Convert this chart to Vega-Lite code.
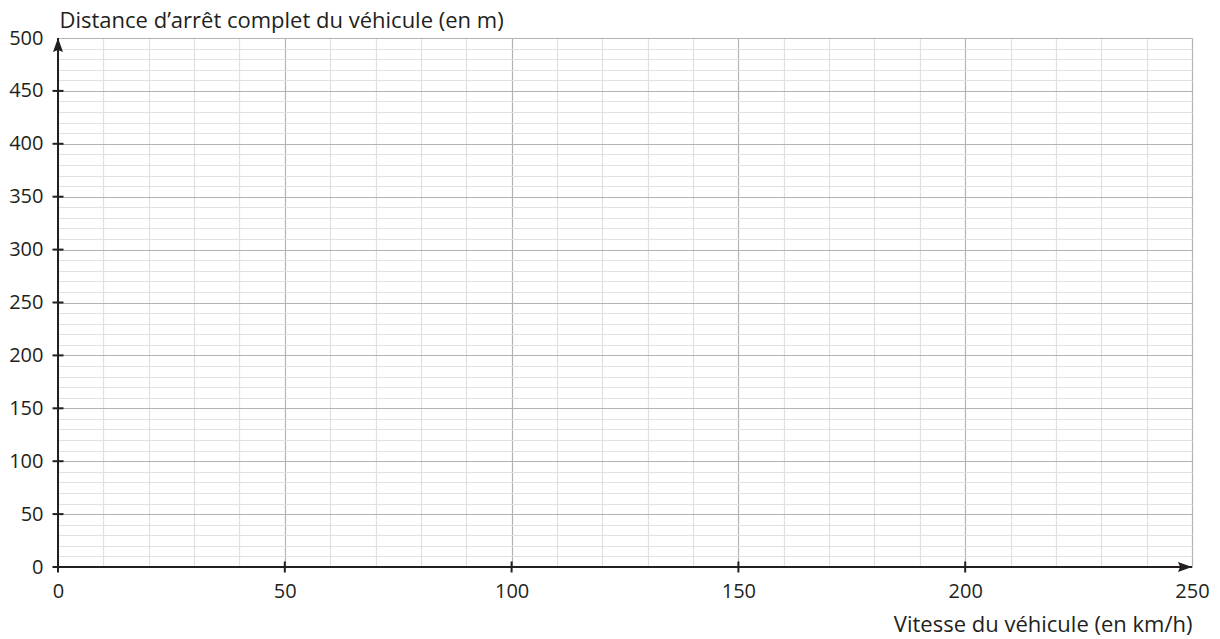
{
  "$schema": "https://vega.github.io/schema/vega-lite/v6.json",
  "width": 1134,
  "height": 529,
  "autosize": {"type": "none"},
  "padding": {"left": 58, "top": 38, "right": 28, "bottom": 72},
  "background": "white",
  "config": {"view": {"stroke": null}, "font": "Open Sans"},
  "encoding": {
    "x": {
      "field": "x", "type": "quantitative",
      "title": "Vitesse du véhicule (en km/h)",
      "scale": {"domain": [0, 250], "nice": false, "zero": true},
      "axis": {
        "values": [0,10,20,30,40,50,60,70,80,90,100,110,120,130,140,150,160,170,180,190,200,210,220,230,240,250],
        "grid": true,
        "gridColor": {"condition": {"test": "datum.value % 50 === 0", "value": "#b3b3b3"}, "value": "#e1e1e1"},
        "gridWidth": 1.2,
        "ticks": false,
        "domain": false,
        "labelExpr": "datum.value % 50 === 0 ? datum.label : ''",
        "labelFont": "Open Sans",
        "labelFontSize": 20,
        "labelColor": "#231f20",
        "labelPadding": 14,
        "labelFlush": false,
        "labelOverlap": false,
        "labelBound": false,
        "titleFont": "Open Sans",
        "titleFontSize": 22,
        "titleFontWeight": "normal",
        "titleColor": "#231f20",
        "titleX": 1134,
        "titleY": 64,
        "titleAlign": "right",
        "titleAnchor": "end",
        "titleBaseline": "alphabetic"
      }
    },
    "y": {
      "field": "y", "type": "quantitative",
      "title": "Distance d’arrêt complet du véhicule (en m)",
      "scale": {"domain": [0, 500], "nice": false, "zero": true},
      "axis": {
        "values": [0,10,20,30,40,50,60,70,80,90,100,110,120,130,140,150,160,170,180,190,200,210,220,230,240,250,260,270,280,290,300,310,320,330,340,350,360,370,380,390,400,410,420,430,440,450,460,470,480,490,500],
        "grid": true,
        "gridColor": {"condition": {"test": "datum.value % 50 === 0", "value": "#b3b3b3"}, "value": "#e1e1e1"},
        "gridWidth": 1.2,
        "ticks": false,
        "domain": false,
        "labelExpr": "datum.value % 50 === 0 ? datum.label : ''",
        "labelFont": "Open Sans",
        "labelFontSize": 20,
        "labelColor": "#231f20",
        "labelPadding": 15,
        "labelFlush": false,
        "labelOverlap": false,
        "labelBound": false,
        "titleFont": "Open Sans",
        "titleFontSize": 22,
        "titleFontWeight": "normal",
        "titleColor": "#231f20",
        "titleAngle": 0,
        "titleX": 1,
        "titleY": -11,
        "titleAlign": "left",
        "titleAnchor": "start",
        "titleBaseline": "alphabetic"
      }
    }
  },
  "layer": [
    {
      "data": {"values": [
        {"x": 0, "y": 0, "x2": 0, "y2": 500},
        {"x": 0, "y": 0, "x2": 250, "y2": 0}
      ]},
      "mark": {"type": "rule", "color": "#231f20", "strokeWidth": 2},
      "encoding": {
        "x2": {"field": "x2"},
        "y2": {"field": "y2"}
      }
    },
    {
      "data": {"values": [{"x": 0, "y": 0}, {"x": 50, "y": 0}, {"x": 100, "y": 0}, {"x": 150, "y": 0}, {"x": 200, "y": 0}]},
      "mark": {"type": "tick", "orient": "vertical", "size": 11, "thickness": 2, "color": "#231f20", "opacity": 1},
      "encoding": {}
    },
    {
      "data": {"values": [{"x": 0, "y": 0}, {"x": 0, "y": 50}, {"x": 0, "y": 100}, {"x": 0, "y": 150}, {"x": 0, "y": 200}, {"x": 0, "y": 250}, {"x": 0, "y": 300}, {"x": 0, "y": 350}, {"x": 0, "y": 400}, {"x": 0, "y": 450}]},
      "mark": {"type": "tick", "orient": "horizontal", "size": 11, "thickness": 2, "color": "#231f20", "opacity": 1},
      "encoding": {}
    },
    {
      "data": {"values": [{"x": 0, "y": 500, "dir": "up"}, {"x": 250, "y": 0, "dir": "right"}]},
      "mark": {"type": "point", "filled": true, "opacity": 1, "color": "#231f20", "size": 784, "strokeWidth": 0},
      "encoding": {
        "shape": {
          "field": "dir", "type": "nominal", "legend": null,
          "scale": {"domain": ["up", "right"], "range": ["M0,0L0.36,1L0,0.85L-0.36,1Z", "M0,0L-1,0.36L-0.85,0L-1,-0.36Z"]}
        }
      }
    }
  ]
}
